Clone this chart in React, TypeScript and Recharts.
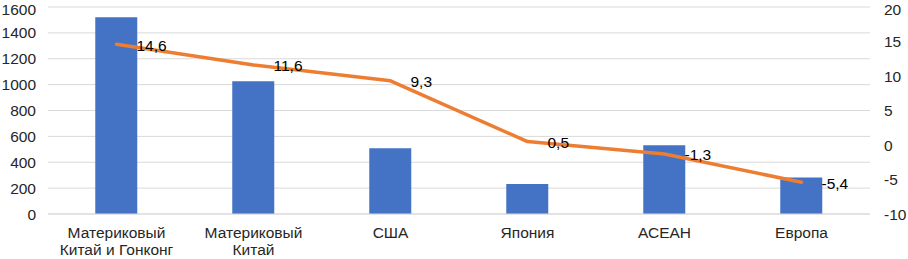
import React from "react";
import { ComposedChart, Bar, Line, XAxis, YAxis, CartesianGrid, LabelList } from "recharts";

const categories = [
  "Материковый\nКитай и Гонконг",
  "Материковый\nКитай",
  "США",
  "Япония",
  "АСЕАН",
  "Европа",
];
const barValues = [1520, 1026, 508, 232, 532, 283];
const growthValues = [14.6, 11.6, 9.3, 0.5, -1.3, -5.4];
const leftTicks = [0, 200, 400, 600, 800, 1000, 1200, 1400, 1600];
const rightTicks = [-10, -5, 0, 5, 10, 15, 20];

const data = categories.map((c, i) => ({ name: c, bar: barValues[i], growth: growthValues[i] }));

const FONT = "'Liberation Sans', Arial, sans-serif";
const TEXT = "#262626";

const CatTick = (props: any) => {
  const { x, y, payload } = props;
  const lines = String(payload.value).split("\n");
  return (
    <text x={x} y={y + 24} textAnchor="middle" fontFamily={FONT} fontSize={15.5} fill={TEXT}>
      {lines.map((l, i) => (
        <tspan key={i} x={x} dy={i === 0 ? 0 : 17}>
          {l}
        </tspan>
      ))}
    </text>
  );
};

const GrowthLabel = (props: any) => {
  const { x, y, value } = props;
  return (
    <text x={x + 20} y={y + 1} dominantBaseline="central" fontFamily={FONT} fontSize={15.5} fill="#000">
      {String(value).replace(".", ",")}
    </text>
  );
};

export default function App() {
  return (
    <div style={{ position: "absolute", left: 0, top: 0, width: 908, height: 259 }}>
      <ComposedChart
        width={908}
        height={259}
        data={data}
        margin={{ top: 7, right: 0, bottom: 0, left: 0 }}
        barCategoryGap="34.5%"
        style={{ overflow: "visible" }}
      >
        <CartesianGrid vertical={false} stroke="#D9D9D9" strokeWidth={1} yAxisId="left" />
        <XAxis
          dataKey="name"
          tick={<CatTick />}
          tickLine={false}
          tickSize={0}
          tickMargin={0}
          height={45}
          interval={0}
          axisLine={{ stroke: "#D9D9D9" }}
        />
        <YAxis
          yAxisId="left"
          domain={[0, 1600]}
          ticks={leftTicks}
          width={48}
          axisLine={false}
          tickLine={false}
          tickSize={0}
          tickMargin={12}
          tick={{ fontFamily: FONT, fontSize: 15.5, fill: TEXT }}
        />
        <YAxis
          yAxisId="right"
          orientation="right"
          domain={[-10, 20]}
          ticks={rightTicks}
          width={38}
          axisLine={false}
          tickLine={false}
          tickSize={0}
          tickMargin={14}
          tick={{ fontFamily: FONT, fontSize: 15.5, fill: TEXT }}
        />
        <Bar yAxisId="left" dataKey="bar" fill="#4472C4" isAnimationActive={false} />
        <Line
          yAxisId="right"
          dataKey="growth"
          type="linear"
          stroke="#ED7D31"
          strokeWidth={3.5}
          dot={false}
          strokeLinecap="round"
          strokeLinejoin="round"
          isAnimationActive={false}
        >
          <LabelList dataKey="growth" content={<GrowthLabel />} />
        </Line>
      </ComposedChart>
    </div>
  );
}
